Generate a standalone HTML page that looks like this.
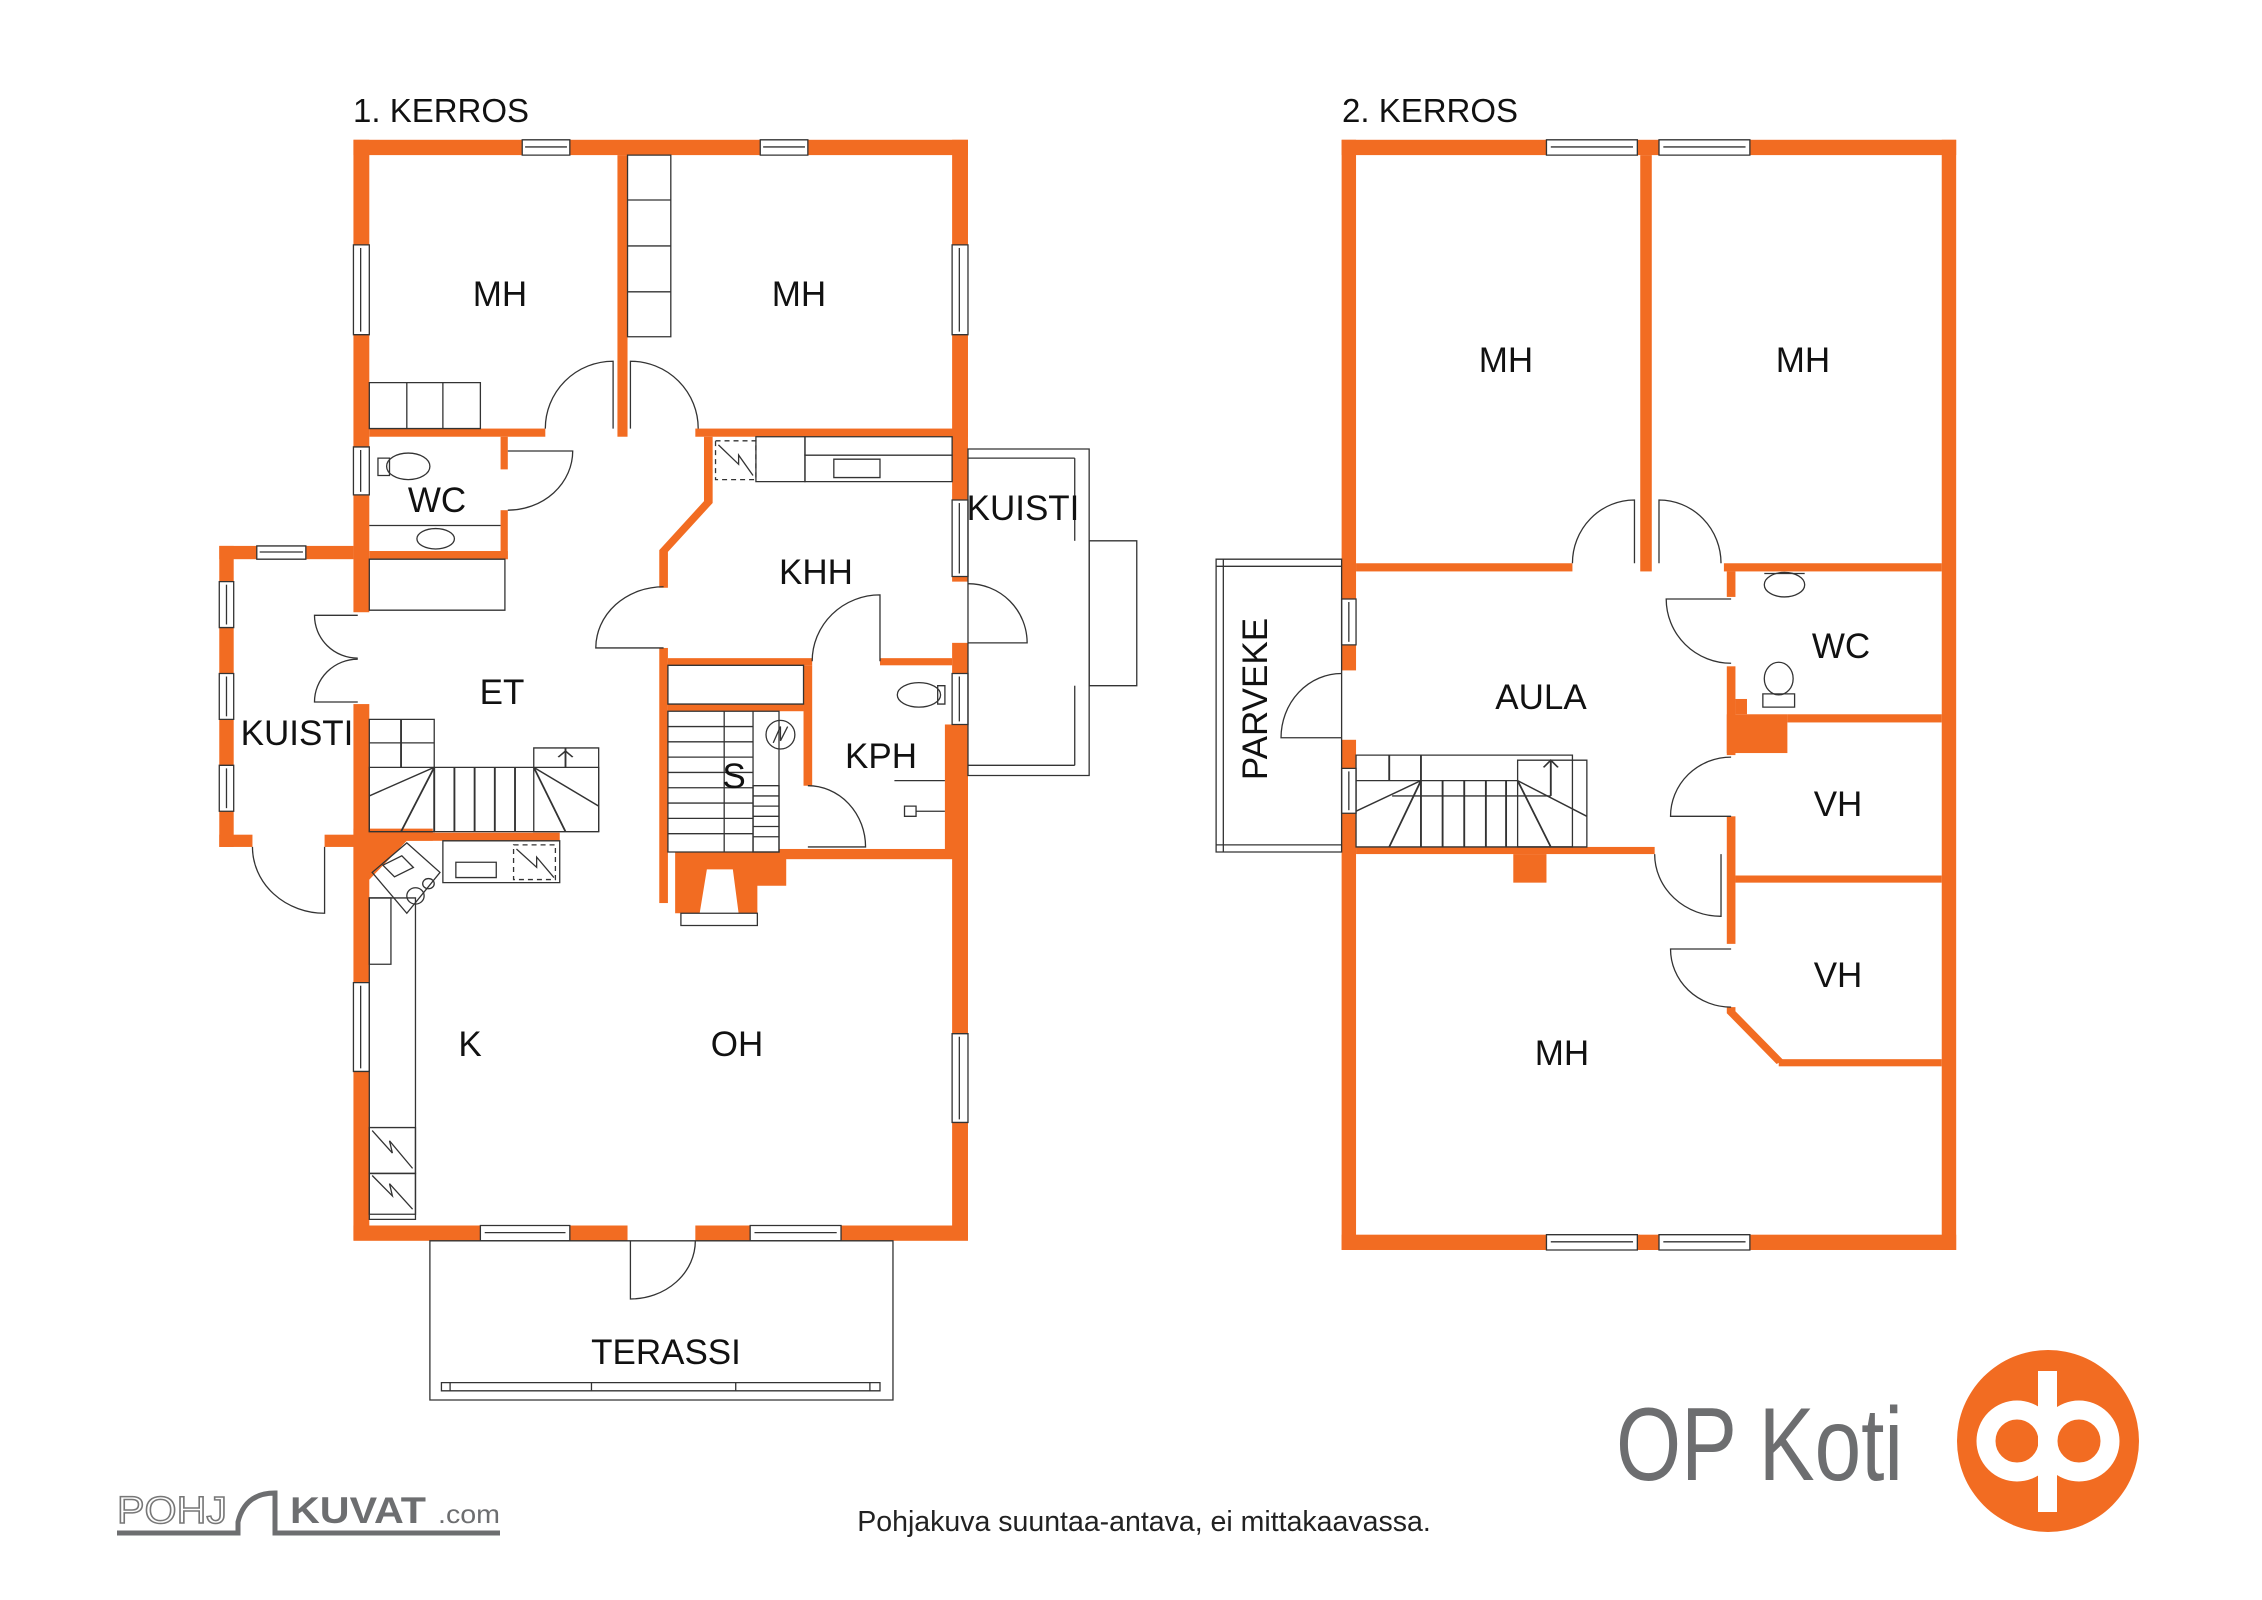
<!DOCTYPE html>
<html><head><meta charset="utf-8"><style>
html,body{margin:0;padding:0;background:#fff}
svg{display:block}
.t{fill:none;stroke:#333;stroke-width:1.3;vector-effect:non-scaling-stroke}
.tw{fill:#fff;stroke:#333;stroke-width:1.3;vector-effect:non-scaling-stroke}
.d{fill:none;stroke:#333;stroke-width:1.3;stroke-dasharray:5 4;vector-effect:non-scaling-stroke}
.o{fill:#f26c22}
.ow{fill:none;stroke:#f26c22}
.lb{font-family:"Liberation Sans",sans-serif;font-size:35px;fill:#111;text-anchor:middle}
</style></head><body>
<svg width="2262" height="1600" viewBox="0 0 2262 1600" xmlns="http://www.w3.org/2000/svg">
<rect width="2262" height="1600" fill="#fff"/>
<g transform="scale(1.4426,1.0204)">
<!-- ===== FLOOR 1 ===== -->
<g class="o">
<rect x="245" y="137" width="426" height="15"/>
<rect x="245" y="137" width="11" height="463"/>
<rect x="245" y="690" width="11" height="525"/>
<rect x="660" y="137" width="11" height="433"/>
<rect x="660" y="630" width="11" height="585"/>
<rect x="655" y="710" width="16" height="125"/>
<rect x="245" y="1201" width="190" height="15"/>
<rect x="482" y="1201" width="189" height="15"/>
<rect x="428" y="152" width="7" height="276"/>
<rect x="256" y="420" width="122" height="8"/>
<rect x="482" y="420" width="189" height="8"/>
<rect x="347" y="428" width="5" height="32"/>
<rect x="347" y="500" width="5" height="48"/>
<rect x="256" y="540" width="96" height="8"/>
<rect x="152" y="535" width="93" height="13"/>
<rect x="152" y="535" width="10" height="295"/>
<rect x="152" y="818" width="23" height="12"/>
<rect x="225" y="818" width="31" height="12"/>
<rect x="463" y="645" width="100" height="7"/>
<rect x="610" y="645" width="50" height="7"/>
<rect x="557" y="652" width="6" height="118"/>
<rect x="463" y="690" width="94" height="7"/>
<rect x="540" y="832" width="131" height="10"/>
<rect x="457" y="635" width="6" height="250"/>
<rect x="256" y="816" width="132" height="8"/>
<polygon points="245,812 300,812 300,824 282,824 256,862 245,862"/>
<polygon points="468,835 545,835 545,868 525,868 525,895 512,895 508,852 490,852 485,895 468,895"/>
</g>
<polyline class="ow" stroke-width="6" points="491,428 491,492 460,540 460,576"/>
<rect class="tw" x="472" y="895" width="53" height="12"/>
<g>
<rect class="tw" x="362" y="137" width="33" height="15"/><line class="t" x1="364" y1="144" x2="393" y2="144"/>
<rect class="tw" x="527" y="137" width="33" height="15"/><line class="t" x1="529" y1="144" x2="558" y2="144"/>
<rect class="tw" x="245" y="240" width="11" height="88"/><line class="t" x1="250" y1="243" x2="250" y2="325"/>
<rect class="tw" x="245" y="438" width="11" height="47"/><line class="t" x1="250" y1="441" x2="250" y2="482"/>
<rect class="tw" x="245" y="963" width="11" height="87"/><line class="t" x1="250" y1="966" x2="250" y2="1047"/>
<rect class="tw" x="660" y="240" width="11" height="88"/><line class="t" x1="665" y1="243" x2="665" y2="325"/>
<rect class="tw" x="660" y="490" width="11" height="75"/><line class="t" x1="665" y1="493" x2="665" y2="562"/>
<rect class="tw" x="660" y="660" width="11" height="50"/><line class="t" x1="665" y1="663" x2="665" y2="707"/>
<rect class="tw" x="660" y="1013" width="11" height="87"/><line class="t" x1="665" y1="1016" x2="665" y2="1097"/>
<rect class="tw" x="333" y="1201" width="62" height="15"/><line class="t" x1="336" y1="1208" x2="392" y2="1208"/>
<rect class="tw" x="520" y="1201" width="63" height="15"/><line class="t" x1="523" y1="1208" x2="580" y2="1208"/>
<rect class="tw" x="178" y="535" width="34" height="13"/><line class="t" x1="180" y1="541" x2="210" y2="541"/>
<rect class="tw" x="152" y="570" width="10" height="45"/><line class="t" x1="157" y1="573" x2="157" y2="612"/>
<rect class="tw" x="152" y="660" width="10" height="45"/><line class="t" x1="157" y1="663" x2="157" y2="702"/>
<rect class="tw" x="152" y="750" width="10" height="45"/><line class="t" x1="157" y1="753" x2="157" y2="792"/>
</g>
<path class="t" d="M378,420 A47,66 0 0 1 425,354 L425,420"/>
<path class="t" d="M437,420 L437,354 A47,66 0 0 1 484,420"/>
<path class="t" d="M352,442 L397,442 A45,58 0 0 1 352,500"/>
<path class="t" d="M175,830 A50,65 0 0 0 225,895 L225,830"/>
<path class="t" d="M248,603 L218,603 A30,42 0 0 0 248,645"/>
<path class="t" d="M248,688 L218,688 A30,42 0 0 1 248,646"/>
<path class="t" d="M460,635 L413,635 A47,60 0 0 1 460,575"/>
<path class="t" d="M563,648 A47,65 0 0 1 610,583 L610,648"/>
<path class="t" d="M560,830 L600,830 A40,60 0 0 0 560,770"/>
<path class="t" d="M671,630 L712,630 A41,58 0 0 0 671,572"/>
<path class="t" d="M437,1216 L437,1273 A45,57 0 0 0 482,1216"/>
<rect class="t" x="256" y="375" width="77" height="45"/>
<line class="t" x1="282" y1="375" x2="282" y2="420"/><line class="t" x1="307" y1="375" x2="307" y2="420"/>
<rect class="t" x="435" y="152" width="30" height="178"/>
<line class="t" x1="435" y1="196" x2="465" y2="196"/><line class="t" x1="435" y1="241" x2="465" y2="241"/><line class="t" x1="435" y1="286" x2="465" y2="286"/>
<rect class="t" x="256" y="548" width="94" height="50"/>
<ellipse class="t" cx="283" cy="457" rx="15" ry="13"/><rect class="t" x="262" y="449" width="8" height="17"/>
<ellipse class="t" cx="302" cy="528" rx="13" ry="10"/><line class="t" x1="256" y1="515" x2="347" y2="515"/>
<rect class="d" x="496" y="432" width="28" height="38"/><polyline class="t" points="498,436 512,455 512,446 522,466"/>
<rect class="t" x="524" y="428" width="34" height="44"/>
<rect class="t" x="558" y="428" width="102" height="18"/><rect class="t" x="558" y="446" width="102" height="26"/>
<rect class="t" x="578" y="450" width="32" height="18"/>
<rect class="t" x="463" y="652" width="94" height="38"/>
<ellipse class="t" cx="637" cy="681" rx="15" ry="12"/><rect class="t" x="650" y="672" width="5" height="18"/>
<line class="t" x1="620" y1="765" x2="655" y2="765"/><rect class="t" x="627" y="790" width="8" height="10"/><line class="t" x1="635" y1="795" x2="655" y2="795"/>
<rect class="t" x="463" y="697" width="77" height="138"/>
<line class="t" x1="502" y1="697" x2="502" y2="835"/>
<g class="t"><line x1="463" y1="712" x2="522" y2="712"/><line x1="463" y1="727" x2="522" y2="727"/><line x1="463" y1="742" x2="522" y2="742"/><line x1="463" y1="757" x2="522" y2="757"/><line x1="463" y1="772" x2="522" y2="772"/><line x1="463" y1="787" x2="522" y2="787"/><line x1="463" y1="802" x2="522" y2="802"/><line x1="463" y1="817" x2="522" y2="817"/></g>
<line class="t" x1="522" y1="697" x2="522" y2="835"/>
<rect class="t" x="522" y="770" width="18" height="65"/>
<g class="t"><line x1="522" y1="780" x2="540" y2="780"/><line x1="522" y1="790" x2="540" y2="790"/><line x1="522" y1="800" x2="540" y2="800"/><line x1="522" y1="810" x2="540" y2="810"/><line x1="522" y1="820" x2="540" y2="820"/></g>
<ellipse class="t" cx="541" cy="720" rx="10" ry="14"/><polyline class="t" points="536,728 541,712 541,726 546,712"/>
<rect class="t" x="256" y="705" width="45" height="110"/>
<rect class="t" x="256" y="752" width="159" height="63"/>
<rect class="t" x="370" y="733" width="45" height="82"/>
<g class="t"><line x1="256" y1="728" x2="301" y2="728"/><line x1="278" y1="705" x2="278" y2="752"/><line x1="301" y1="752" x2="301" y2="815"/><line x1="315" y1="752" x2="315" y2="815"/><line x1="329" y1="752" x2="329" y2="815"/><line x1="343" y1="752" x2="343" y2="815"/><line x1="357" y1="752" x2="357" y2="815"/><line x1="301" y1="752" x2="256" y2="780"/><line x1="301" y1="752" x2="278" y2="815"/><line x1="370" y1="752" x2="415" y2="790"/><line x1="370" y1="752" x2="392" y2="815"/><line x1="392" y1="733" x2="392" y2="752"/><polyline points="387,742 392,736 397,742"/></g>
<rect class="t" x="307" y="824" width="81" height="41"/>
<rect class="t" x="316" y="845" width="28" height="15"/>
<rect class="d" x="356" y="828" width="29" height="34"/><polyline class="t" points="358,832 372,850 372,840 384,860"/>
<polygon class="t" points="282,826 305,855 282,895 258,855"/>
<rect class="t" x="268" y="842" width="16" height="14" transform="rotate(-35 276 849)"/>
<ellipse class="t" cx="288" cy="878" rx="6" ry="8"/><ellipse class="t" cx="297" cy="866" rx="4" ry="5"/>
<rect class="t" x="256" y="880" width="32" height="315"/>
<rect class="t" x="256" y="880" width="15" height="65"/>
<rect class="t" x="256" y="1105" width="32" height="45"/><rect class="t" x="256" y="1150" width="32" height="40"/>
<polyline class="t" points="258,1108 272,1130 270,1118 286,1145"/><polyline class="t" points="258,1152 272,1172 270,1160 286,1185"/>
<rect class="t" x="671" y="440" width="84" height="320"/>
<line class="t" x1="671" y1="449" x2="745" y2="449"/><line class="t" x1="745" y1="449" x2="745" y2="530"/><line class="t" x1="745" y1="672" x2="745" y2="750"/><line class="t" x1="671" y1="750" x2="745" y2="750"/>
<rect class="t" x="755" y="530" width="33" height="142"/>
<rect class="t" x="298" y="1216" width="321" height="156"/>
<rect class="t" x="306" y="1355" width="304" height="8"/>
<line class="t" x1="312" y1="1355" x2="312" y2="1363"/><line class="t" x1="410" y1="1355" x2="410" y2="1363"/><line class="t" x1="510" y1="1355" x2="510" y2="1363"/><line class="t" x1="603" y1="1355" x2="603" y2="1363"/>

<!-- ===== FLOOR 2 ===== -->
<g class="o">
<rect x="930" y="137" width="426" height="15"/>
<rect x="930" y="1210" width="426" height="15"/>
<rect x="1346" y="137" width="10" height="1088"/>
<rect x="930" y="137" width="10" height="520"/>
<rect x="930" y="725" width="10" height="500"/>
<rect x="1137" y="152" width="8" height="408"/>
<rect x="940" y="552" width="150" height="8"/>
<rect x="1195" y="552" width="151" height="8"/>
<rect x="1197" y="560" width="6" height="25"/>
<rect x="1197" y="653" width="6" height="87"/>
<rect x="1203" y="685" width="8" height="15"/>
<rect x="1197" y="700" width="42" height="38"/>
<rect x="1239" y="700" width="107" height="8"/>
<rect x="1197" y="800" width="6" height="125"/>
<rect x="1203" y="858" width="143" height="7"/>
<rect x="940" y="830" width="207" height="7"/>
<rect x="1049" y="837" width="23" height="28"/>
<rect x="1233" y="1038" width="113" height="7"/>
</g>
<polyline class="ow" stroke-width="6" points="1200,987 1200,992 1234,1041"/>
<rect class="tw" x="1072" y="137" width="63" height="15"/><line class="t" x1="1075" y1="144" x2="1132" y2="144"/>
<rect class="tw" x="1150" y="137" width="63" height="15"/><line class="t" x1="1153" y1="144" x2="1210" y2="144"/>
<rect class="tw" x="1072" y="1210" width="63" height="15"/><line class="t" x1="1075" y1="1217" x2="1132" y2="1217"/>
<rect class="tw" x="1150" y="1210" width="63" height="15"/><line class="t" x1="1153" y1="1217" x2="1210" y2="1217"/>
<rect class="tw" x="930" y="587" width="10" height="45"/><line class="t" x1="935" y1="590" x2="935" y2="629"/>
<rect class="tw" x="930" y="753" width="10" height="44"/><line class="t" x1="935" y1="756" x2="935" y2="794"/>
<path class="t" d="M1090,552 A43,62 0 0 1 1133,490 L1133,552"/>
<path class="t" d="M1150,552 L1150,490 A43,62 0 0 1 1193,552"/>
<path class="t" d="M1200,587 L1155,587 A45,63 0 0 0 1200,650"/>
<path class="t" d="M1200,800 L1158,800 A42,58 0 0 1 1200,742"/>
<path class="t" d="M1147,837 A46,61 0 0 0 1193,898 L1193,837"/>
<path class="t" d="M1200,930 L1158,930 A42,57 0 0 0 1200,987"/>
<path class="t" d="M930,723 L888,723 A42,63 0 0 1 930,660"/>
<ellipse class="t" cx="1237" cy="573" rx="14" ry="12"/><line class="t" x1="1223" y1="562" x2="1251" y2="562"/>
<ellipse class="t" cx="1233" cy="665" rx="10" ry="16"/><rect class="t" x="1222" y="680" width="22" height="13"/>
<rect class="t" x="940" y="740" width="150" height="90"/>
<rect class="t" x="1052" y="745" width="48" height="85"/>
<g class="t"><line x1="940" y1="765" x2="1052" y2="765"/><line x1="985" y1="740" x2="985" y2="830"/><line x1="963" y1="740" x2="963" y2="765"/><line x1="1000" y1="765" x2="1000" y2="830"/><line x1="1015" y1="765" x2="1015" y2="830"/><line x1="1030" y1="765" x2="1030" y2="830"/><line x1="1044" y1="765" x2="1044" y2="830"/><line x1="985" y1="765" x2="940" y2="795"/><line x1="985" y1="765" x2="963" y2="830"/><line x1="1052" y1="765" x2="1100" y2="800"/><line x1="1052" y1="765" x2="1075" y2="830"/><line x1="1075" y1="745" x2="1075" y2="780"/><line x1="965" y1="780" x2="1075" y2="780"/><polyline points="1070,752 1075,745 1080,752"/></g>
<rect class="t" x="843" y="548" width="87" height="287"/>
<line class="t" x1="848" y1="548" x2="848" y2="835"/><line class="t" x1="843" y1="555" x2="930" y2="555"/><line class="t" x1="843" y1="828" x2="930" y2="828"/>
</g>

<g class="lb">
<text x="353" y="122" text-anchor="start" style="font-size:33px">1. KERROS</text>
<text x="1342" y="122" text-anchor="start" style="font-size:33px">2. KERROS</text>
<text x="500" y="306">MH</text>
<text x="799" y="306">MH</text>
<text x="437" y="512">WC</text>
<text x="1023" y="520">KUISTI</text>
<text x="816" y="584">KHH</text>
<text x="502" y="704">ET</text>
<text x="297" y="745">KUISTI</text>
<text x="881" y="768">KPH</text>
<text x="734" y="788">S</text>
<text x="470" y="1056">K</text>
<text x="737" y="1056">OH</text>
<text x="666" y="1364">TERASSI</text>
<text x="1506" y="372">MH</text>
<text x="1803" y="372">MH</text>
<text x="1541" y="709">AULA</text>
<text x="1841" y="658">WC</text>
<text x="1838" y="816">VH</text>
<text x="1838" y="987">VH</text>
<text x="1562" y="1065">MH</text>
<text transform="translate(1267,699) rotate(-90)" x="0" y="0">PARVEKE</text>
</g>
<text x="1144" y="1531" style="font-family:'Liberation Sans',sans-serif;font-size:28.5px;fill:#222;text-anchor:middle">Pohjakuva suuntaa-antava, ei mittakaavassa.</text>

<text x="1616" y="1480" textLength="287" lengthAdjust="spacingAndGlyphs" style="font-family:'Liberation Sans',sans-serif;font-size:104px;fill:#6d6e70">OP Koti</text>
<circle cx="2048" cy="1441" r="91" fill="#f26c22"/>
<circle cx="2017" cy="1441" r="31" fill="none" stroke="#fff" stroke-width="19"/>
<circle cx="2079" cy="1441" r="31" fill="none" stroke="#fff" stroke-width="19"/>
<rect x="2038" y="1371" width="19" height="141" fill="#fff"/>

<text x="117" y="1523" textLength="110" lengthAdjust="spacingAndGlyphs" style="font-family:'Liberation Sans',sans-serif;font-size:38px;fill:#fff;stroke:#777;stroke-width:1.5">POHJ</text>
<path d="M117,1533 L238,1533 L238,1522 Q245,1493 275,1493 L275,1533 L500,1533" fill="none" stroke="#6d6e70" stroke-width="5"/>
<text x="290" y="1523" textLength="136" lengthAdjust="spacingAndGlyphs" style="font-family:'Liberation Sans',sans-serif;font-size:37px;font-weight:bold;fill:#6d6e70">KUVAT</text>
<text x="438" y="1523" textLength="62" lengthAdjust="spacingAndGlyphs" style="font-family:'Liberation Sans',sans-serif;font-size:26px;fill:#6d6e70">.com</text>
</svg>
</body></html>
